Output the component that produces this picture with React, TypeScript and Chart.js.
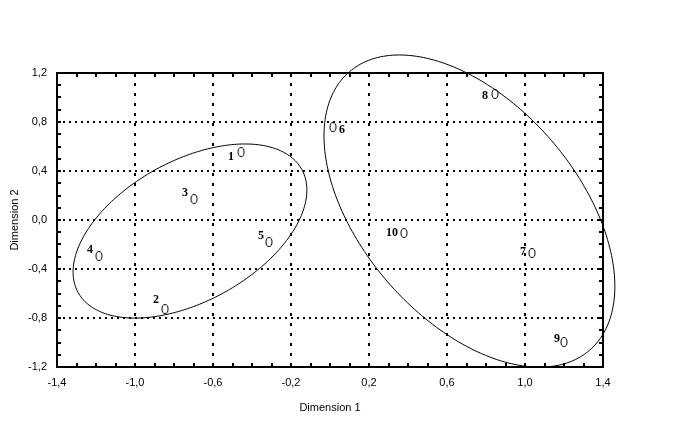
import React, { useEffect, useRef } from 'react';
import { Chart, registerables } from 'chart.js';

Chart.register(...registerables);

// ---- data ----
const pointIds = ['1', '2', '3', '4', '5', '6', '7', '8', '9', '10'];
const dim1 = [-0.456, -0.846, -0.697, -1.185, -0.313, 0.015, 1.036, 0.846, 1.2, 0.379];
const dim2 = [0.555, -0.727, 0.171, -0.294, -0.18, 0.759, -0.269, 1.029, -0.996, -0.106];

const xTickValues = [-1.4, -1.0, -0.6, -0.2, 0.2, 0.6, 1.0, 1.4];
const xTickLabels = ['-1,4', '-1,0', '-0,6', '-0,2', '0,2', '0,6', '1,0', '1,4'];
const yTickValues = [-1.2, -0.8, -0.4, 0, 0.4, 0.8, 1.2];
const yTickLabels = ['-1,2', '-0,8', '-0,4', '0,0', '0,4', '0,8', '1,2'];

// cluster ellipses: centre and two half-axis vectors, in data units
const ellipseCenters = [[-0.718, -0.09], [0.715, 0.073]];
const ellipseAxisU = [[0.574, 0.501], [0.617, -1.135]];
const ellipseAxisV = [[0.173, -0.504], [-0.419, -0.579]];

// ---- styling (pixel offsets of the point labels from their markers) ----
const labelOffsets = [[-10, 5], [-9, -9], [-9, -6], [-9, -6], [-8, -6], [9, 3], [-9, -1], [-10, 2], [-7, -3], [-12, 0]];

const X_MIN = -1.4, X_MAX = 1.4, Y_MIN = -1.2, Y_MAX = 1.2, MINOR = 0.1;

function makeMarker(): HTMLCanvasElement {
  const c = document.createElement('canvas');
  c.width = 8;
  c.height = 12;
  const g = c.getContext('2d')!;
  g.strokeStyle = '#000';
  g.lineWidth = 1;
  g.beginPath();
  g.ellipse(4, 6, 3, 4.5, 0, 0, Math.PI * 2);
  g.stroke();
  return c;
}

const decorPlugin = {
  id: 'decor',
  afterDraw(chart: any) {
    const { ctx, chartArea, scales } = chart;
    const { left, right, top, bottom } = chartArea;
    const xs = scales.x, ys = scales.y;
    ctx.save();
    ctx.strokeStyle = '#000';
    ctx.fillStyle = '#000';

    // frame
    ctx.lineWidth = 2;
    ctx.setLineDash([]);
    ctx.strokeRect(left, top, right - left, bottom - top);

    // minor inside ticks
    const nX = Math.round((X_MAX - X_MIN) / MINOR);
    for (let i = 0; i <= nX; i++) {
      const px = Math.round(xs.getPixelForValue(X_MIN + i * MINOR));
      ctx.beginPath();
      ctx.moveTo(px, top);
      ctx.lineTo(px, top + 4);
      ctx.moveTo(px, bottom);
      ctx.lineTo(px, bottom - 4);
      ctx.stroke();
    }
    const nY = Math.round((Y_MAX - Y_MIN) / MINOR);
    for (let i = 0; i <= nY; i++) {
      const py = Math.round(ys.getPixelForValue(Y_MIN + i * MINOR));
      ctx.beginPath();
      ctx.moveTo(left, py);
      ctx.lineTo(left + 4, py);
      ctx.moveTo(right, py);
      ctx.lineTo(right - 4, py);
      ctx.stroke();
    }

    // ellipses
    ctx.lineWidth = 1;
    for (let e = 0; e < ellipseCenters.length; e++) {
      const [cx, cy] = ellipseCenters[e];
      const [ux, uy] = ellipseAxisU[e];
      const [vx, vy] = ellipseAxisV[e];
      ctx.beginPath();
      for (let k = 0; k <= 240; k++) {
        const t = (k / 240) * Math.PI * 2;
        const dx = cx + ux * Math.cos(t) + vx * Math.sin(t);
        const dy = cy + uy * Math.cos(t) + vy * Math.sin(t);
        const px = xs.getPixelForValue(dx);
        const py = ys.getPixelForValue(dy);
        if (k === 0) ctx.moveTo(px, py);
        else ctx.lineTo(px, py);
      }
      ctx.stroke();
    }

    // point labels
    ctx.font = 'bold 12px "Liberation Serif"';
    ctx.textAlign = 'center';
    ctx.textBaseline = 'middle';
    for (let i = 0; i < pointIds.length; i++) {
      const px = xs.getPixelForValue(dim1[i]);
      const py = ys.getPixelForValue(dim2[i]);
      ctx.fillText(pointIds[i], px + labelOffsets[i][0], py + labelOffsets[i][1]);
    }

    // axis titles
    ctx.font = '11px "Liberation Sans"';
    ctx.fillText('Dimension 1', (left + right) / 2, 408);
    ctx.save();
    ctx.translate(15, (top + bottom) / 2);
    ctx.rotate(-Math.PI / 2);
    ctx.fillText('Dimension 2', 0, 0);
    ctx.restore();

    ctx.restore();
  },
};

export default function App() {
  const ref = useRef<HTMLCanvasElement | null>(null);

  useEffect(() => {
    document.body.style.margin = '0';
    const canvas = ref.current!;
    const marker = makeMarker();
    const points = dim1.map((x, i) => ({ x, y: dim2[i] }));
    const chart = new Chart(canvas, {
      type: 'scatter',
      data: {
        datasets: [
          {
            data: points,
            pointStyle: marker as any,
            pointRadius: 5,
            borderColor: '#000',
            backgroundColor: '#000',
          },
        ],
      },
      options: {
        responsive: false,
        animation: false,
        events: [],
        layout: { padding: { left: 0, right: 82, top: 73, bottom: 0 } },
        plugins: { legend: { display: false }, tooltip: { enabled: false } },
        scales: {
          x: {
            type: 'linear',
            min: X_MIN,
            max: X_MAX,
            afterFit: (s: any) => {
              s.height = 68;
            },
            afterBuildTicks: (s: any) => {
              s.ticks = xTickValues.map((v) => ({ value: v }));
            },
            ticks: {
              padding: 9,
              color: '#000',
              font: { family: 'Liberation Sans', size: 11 },
              maxRotation: 0,
              autoSkip: false,
              callback: (v: any) => {
                const i = xTickValues.findIndex((t) => Math.abs(t - Number(v)) < 1e-6);
                return i >= 0 ? xTickLabels[i] : '';
              },
            },
            grid: { color: '#000', lineWidth: 2, drawTicks: false },
            border: { display: false, dash: [3, 7] },
          },
          y: {
            type: 'linear',
            min: Y_MIN,
            max: Y_MAX,
            afterFit: (s: any) => {
              s.width = 57;
            },
            afterBuildTicks: (s: any) => {
              s.ticks = yTickValues.map((v) => ({ value: v }));
            },
            ticks: {
              padding: 10,
              color: '#000',
              font: { family: 'Liberation Sans', size: 11 },
              autoSkip: false,
              callback: (v: any) => {
                const i = yTickValues.findIndex((t) => Math.abs(t - Number(v)) < 1e-6);
                return i >= 0 ? yTickLabels[i] : '';
              },
            },
            grid: { color: '#000', lineWidth: 2, drawTicks: false },
            border: { display: false, dash: [2, 4] },
          },
        },
      },
      plugins: [decorPlugin],
    });
    return () => chart.destroy();
  }, []);

  return (
    <div style={{ position: 'absolute', left: 0, top: 0, width: 685, height: 435, background: '#fff' }}>
      <canvas ref={ref} width={685} height={435} />
    </div>
  );
}
